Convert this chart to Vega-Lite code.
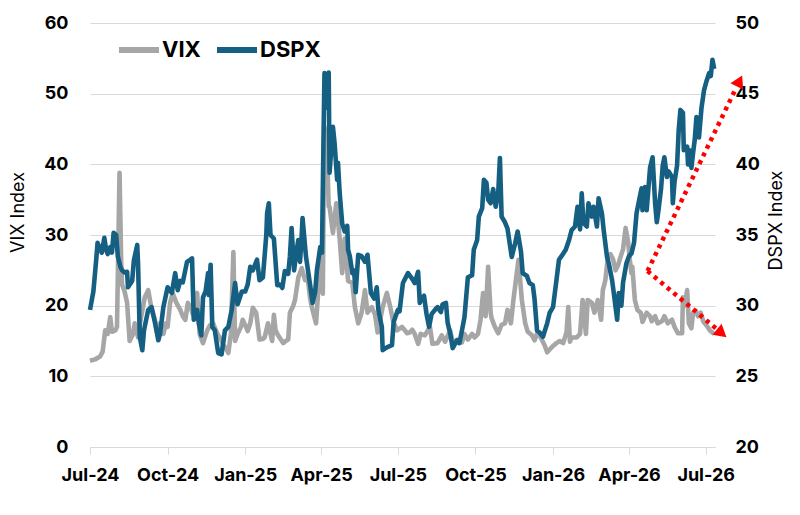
{
  "$schema": "https://vega.github.io/schema/vega-lite/v6.json",
  "width": 625,
  "height": 424,
  "autosize": {"type": "none"},
  "padding": {"left": 90, "top": 23, "right": 85, "bottom": 68},
  "background": "white",
  "config": {
    "view": {"stroke": null},
    "font": "Inter",
    "axis": {"labelFont": "Inter", "labelFontSize": 18, "labelFontWeight": "bold", "labelColor": "#000000", "titleFont": "Inter", "titleFontSize": 18, "titleFontWeight": "normal", "titleColor": "#000000"},
    "legend": {"labelFont": "Inter"}
  },
  "datasets": {
    "vix": [
      {"date":"2024-07-01","value":12.2},{"date":"2024-07-07","value":12.4},{"date":"2024-07-13","value":12.8},{"date":"2024-07-16","value":13.5},{"date":"2024-07-19","value":16.5},{"date":"2024-07-22","value":16.0},{"date":"2024-07-25","value":18.4},{"date":"2024-07-27","value":16.3},{"date":"2024-07-31","value":16.5},{"date":"2024-08-02","value":17.0},{"date":"2024-08-05","value":38.8},{"date":"2024-08-07","value":26.0},{"date":"2024-08-08","value":23.0},{"date":"2024-08-11","value":22.0},{"date":"2024-08-14","value":20.4},{"date":"2024-08-17","value":15.0},{"date":"2024-08-21","value":16.0},{"date":"2024-08-23","value":17.5},{"date":"2024-08-27","value":15.5},{"date":"2024-08-30","value":18.0},{"date":"2024-09-04","value":21.2},{"date":"2024-09-08","value":22.2},{"date":"2024-09-12","value":19.5},{"date":"2024-09-16","value":18.0},{"date":"2024-09-18","value":16.5},{"date":"2024-09-22","value":17.5},{"date":"2024-09-26","value":16.0},{"date":"2024-09-29","value":17.5},
      {"date":"2024-10-01","value":17.0},{"date":"2024-10-04","value":20.4},{"date":"2024-10-07","value":21.8},{"date":"2024-10-11","value":20.5},{"date":"2024-10-16","value":19.4},{"date":"2024-10-19","value":18.5},{"date":"2024-10-22","value":18.0},{"date":"2024-10-25","value":20.4},{"date":"2024-10-29","value":19.5},{"date":"2024-10-31","value":18.8},{"date":"2024-11-05","value":21.8},{"date":"2024-11-08","value":16.0},{"date":"2024-11-12","value":14.7},{"date":"2024-11-17","value":16.5},{"date":"2024-11-20","value":17.2},{"date":"2024-11-24","value":17.5},{"date":"2024-11-29","value":16.0},{"date":"2024-12-02","value":15.5},{"date":"2024-12-06","value":14.5},{"date":"2024-12-09","value":14.0},{"date":"2024-12-12","value":13.3},{"date":"2024-12-15","value":16.0},{"date":"2024-12-18","value":27.6},{"date":"2024-12-20","value":15.0},{"date":"2024-12-23","value":16.0},{"date":"2024-12-27","value":17.0},{"date":"2024-12-29","value":18.0},
      {"date":"2025-01-02","value":17.0},{"date":"2025-01-04","value":16.4},{"date":"2025-01-07","value":17.5},{"date":"2025-01-10","value":19.7},{"date":"2025-01-14","value":19.0},{"date":"2025-01-18","value":15.2},{"date":"2025-01-22","value":15.3},{"date":"2025-01-24","value":15.5},{"date":"2025-01-28","value":17.5},{"date":"2025-02-02","value":15.0},{"date":"2025-02-04","value":18.7},{"date":"2025-02-06","value":16.5},{"date":"2025-02-09","value":15.8},{"date":"2025-02-15","value":14.7},{"date":"2025-02-18","value":15.0},{"date":"2025-02-21","value":15.2},{"date":"2025-02-23","value":19.0},{"date":"2025-02-27","value":20.0},{"date":"2025-03-01","value":20.8},{"date":"2025-03-05","value":24.0},{"date":"2025-03-09","value":25.3},{"date":"2025-03-13","value":23.6},{"date":"2025-03-16","value":24.0},{"date":"2025-03-19","value":21.0},{"date":"2025-03-21","value":19.8},{"date":"2025-03-26","value":17.5},{"date":"2025-03-28","value":21.0},{"date":"2025-03-31","value":26.5},{"date":"2025-04-03","value":21.7},{"date":"2025-04-04","value":35.0},{"date":"2025-04-05","value":45.3},{"date":"2025-04-08","value":42.0},{"date":"2025-04-10","value":34.0},{"date":"2025-04-11","value":34.0},{"date":"2025-04-15","value":30.3},{"date":"2025-04-19","value":34.5},{"date":"2025-04-20","value":33.4},{"date":"2025-04-23","value":29.5},{"date":"2025-04-26","value":24.6},{"date":"2025-04-29","value":29.5},{"date":"2025-05-03","value":23.5},{"date":"2025-05-08","value":23.2},{"date":"2025-05-11","value":19.8},{"date":"2025-05-15","value":17.5},{"date":"2025-05-19","value":19.0},{"date":"2025-05-23","value":22.2},{"date":"2025-05-26","value":19.0},{"date":"2025-05-31","value":19.8},{"date":"2025-06-04","value":18.7},{"date":"2025-06-07","value":16.2},{"date":"2025-06-13","value":19.8},{"date":"2025-06-18","value":21.8},{"date":"2025-06-22","value":19.8},{"date":"2025-06-25","value":18.0},{"date":"2025-06-30","value":16.5},
      {"date":"2025-07-06","value":17.0},{"date":"2025-07-12","value":16.1},{"date":"2025-07-15","value":16.2},{"date":"2025-07-18","value":16.6},{"date":"2025-07-21","value":16.0},{"date":"2025-07-25","value":14.6},{"date":"2025-07-28","value":16.0},{"date":"2025-08-02","value":15.8},{"date":"2025-08-08","value":17.0},{"date":"2025-08-11","value":14.6},{"date":"2025-08-17","value":14.7},{"date":"2025-08-22","value":15.8},{"date":"2025-08-26","value":14.9},{"date":"2025-09-01","value":16.5},{"date":"2025-09-04","value":14.8},{"date":"2025-09-10","value":15.2},{"date":"2025-09-15","value":14.8},{"date":"2025-09-18","value":16.0},{"date":"2025-09-22","value":15.2},{"date":"2025-09-27","value":16.0},{"date":"2025-09-30","value":15.5},{"date":"2025-10-04","value":16.0},{"date":"2025-10-07","value":18.0},{"date":"2025-10-10","value":21.8},{"date":"2025-10-13","value":18.5},{"date":"2025-10-16","value":25.5},{"date":"2025-10-19","value":19.0},{"date":"2025-10-20","value":18.3},{"date":"2025-10-24","value":17.0},{"date":"2025-10-28","value":16.1},{"date":"2025-11-01","value":17.3},{"date":"2025-11-05","value":17.5},{"date":"2025-11-08","value":19.4},{"date":"2025-11-12","value":17.5},{"date":"2025-11-15","value":20.8},{"date":"2025-11-19","value":24.6},{"date":"2025-11-21","value":26.5},{"date":"2025-11-25","value":20.8},{"date":"2025-11-29","value":17.5},{"date":"2025-12-02","value":16.3},{"date":"2025-12-07","value":15.8},{"date":"2025-12-10","value":15.1},{"date":"2025-12-14","value":16.3},{"date":"2025-12-19","value":15.1},{"date":"2025-12-22","value":14.4},{"date":"2025-12-25","value":13.4},{"date":"2025-12-28","value":13.8},
      {"date":"2026-01-01","value":14.3},{"date":"2026-01-05","value":14.7},{"date":"2026-01-09","value":15.0},{"date":"2026-01-13","value":14.7},{"date":"2026-01-17","value":16.3},{"date":"2026-01-19","value":19.8},{"date":"2026-01-21","value":14.9},{"date":"2026-01-23","value":15.5},{"date":"2026-01-29","value":15.5},{"date":"2026-02-02","value":16.0},{"date":"2026-02-05","value":20.8},{"date":"2026-02-09","value":16.0},{"date":"2026-02-11","value":20.8},{"date":"2026-02-16","value":20.4},{"date":"2026-02-19","value":19.0},{"date":"2026-02-23","value":20.8},{"date":"2026-02-27","value":18.0},{"date":"2026-03-01","value":22.2},{"date":"2026-03-04","value":23.6},{"date":"2026-03-07","value":26.9},{"date":"2026-03-10","value":27.3},{"date":"2026-03-13","value":26.6},{"date":"2026-03-16","value":25.0},{"date":"2026-03-19","value":25.7},{"date":"2026-03-22","value":26.9},{"date":"2026-03-25","value":28.0},{"date":"2026-03-28","value":31.0},{"date":"2026-03-31","value":29.0},{"date":"2026-04-02","value":26.5},{"date":"2026-04-04","value":24.6},{"date":"2026-04-05","value":25.5},{"date":"2026-04-08","value":20.8},{"date":"2026-04-11","value":19.4},{"date":"2026-04-15","value":19.0},{"date":"2026-04-17","value":17.7},{"date":"2026-04-22","value":19.0},{"date":"2026-04-26","value":18.5},{"date":"2026-04-28","value":17.8},{"date":"2026-05-02","value":18.5},{"date":"2026-05-05","value":17.5},{"date":"2026-05-10","value":17.8},{"date":"2026-05-13","value":18.5},{"date":"2026-05-17","value":17.5},{"date":"2026-05-22","value":18.0},{"date":"2026-05-25","value":17.0},{"date":"2026-05-29","value":16.1},{"date":"2026-06-03","value":16.1},{"date":"2026-06-04","value":21.2},{"date":"2026-06-06","value":20.0},{"date":"2026-06-09","value":22.2},{"date":"2026-06-11","value":17.5},{"date":"2026-06-14","value":16.8},{"date":"2026-06-16","value":19.0},{"date":"2026-06-19","value":19.3},{"date":"2026-06-22","value":18.5},{"date":"2026-06-25","value":19.0},{"date":"2026-06-28","value":17.8},{"date":"2026-07-02","value":17.2},{"date":"2026-07-06","value":16.5},{"date":"2026-07-11","value":16.0}
    ],
    "dspx": [
      {"date":"2024-07-01","value":29.7},{"date":"2024-07-05","value":31.0},{"date":"2024-07-08","value":33.0},{"date":"2024-07-10","value":34.45},{"date":"2024-07-13","value":34.0},{"date":"2024-07-15","value":33.75},{"date":"2024-07-18","value":34.8},{"date":"2024-07-20","value":34.0},{"date":"2024-07-22","value":33.65},{"date":"2024-07-25","value":34.15},{"date":"2024-07-27","value":33.75},{"date":"2024-07-29","value":35.15},{"date":"2024-08-01","value":35.0},{"date":"2024-08-03","value":33.5},{"date":"2024-08-06","value":32.75},{"date":"2024-08-08","value":32.5},{"date":"2024-08-11","value":32.35},{"date":"2024-08-14","value":32.4},{"date":"2024-08-15","value":31.3},{"date":"2024-08-20","value":31.75},{"date":"2024-08-22","value":33.2},{"date":"2024-08-26","value":34.3},{"date":"2024-08-27","value":32.95},{"date":"2024-08-29","value":27.8},{"date":"2024-09-01","value":26.85},{"date":"2024-09-03","value":28.25},{"date":"2024-09-08","value":29.7},{"date":"2024-09-12","value":29.9},{"date":"2024-09-16","value":28.8},{"date":"2024-09-20","value":27.55},{"date":"2024-09-22","value":28.0},{"date":"2024-09-26","value":29.9},
      {"date":"2024-10-01","value":31.3},{"date":"2024-10-06","value":30.9},{"date":"2024-10-10","value":32.3},{"date":"2024-10-13","value":31.1},{"date":"2024-10-16","value":31.75},{"date":"2024-10-19","value":31.65},{"date":"2024-10-24","value":33.1},{"date":"2024-10-28","value":33.25},{"date":"2024-10-30","value":33.35},{"date":"2024-11-01","value":29.0},{"date":"2024-11-05","value":29.7},{"date":"2024-11-07","value":28.75},{"date":"2024-11-10","value":27.9},{"date":"2024-11-12","value":30.6},{"date":"2024-11-15","value":31.0},{"date":"2024-11-18","value":32.3},{"date":"2024-11-19","value":30.75},{"date":"2024-11-21","value":32.9},{"date":"2024-11-23","value":28.5},{"date":"2024-11-26","value":28.25},{"date":"2024-11-30","value":26.65},{"date":"2024-12-04","value":26.55},{"date":"2024-12-08","value":28.25},{"date":"2024-12-12","value":28.5},{"date":"2024-12-16","value":29.7},{"date":"2024-12-20","value":31.6},{"date":"2024-12-23","value":30.1},{"date":"2024-12-28","value":31.0},
      {"date":"2025-01-01","value":31.0},{"date":"2025-01-04","value":31.5},{"date":"2025-01-07","value":32.75},{"date":"2025-01-10","value":32.5},{"date":"2025-01-15","value":33.25},{"date":"2025-01-18","value":31.8},{"date":"2025-01-22","value":32.0},{"date":"2025-01-26","value":35.0},{"date":"2025-01-27","value":36.55},{"date":"2025-01-29","value":37.25},{"date":"2025-01-31","value":35.0},{"date":"2025-02-04","value":34.75},{"date":"2025-02-08","value":31.45},{"date":"2025-02-11","value":31.5},{"date":"2025-02-14","value":31.25},{"date":"2025-02-17","value":32.45},{"date":"2025-02-21","value":32.25},{"date":"2025-02-23","value":33.5},{"date":"2025-02-25","value":35.5},{"date":"2025-02-28","value":32.5},{"date":"2025-03-02","value":33.5},{"date":"2025-03-05","value":34.65},{"date":"2025-03-07","value":33.1},{"date":"2025-03-09","value":35.0},{"date":"2025-03-10","value":36.2},{"date":"2025-03-14","value":33.5},{"date":"2025-03-19","value":31.45},{"date":"2025-03-22","value":30.2},{"date":"2025-03-25","value":31.0},{"date":"2025-03-27","value":32.5},{"date":"2025-03-31","value":34.15},{"date":"2025-04-02","value":33.75},{"date":"2025-04-04","value":42.5},{"date":"2025-04-05","value":46.45},{"date":"2025-04-08","value":44.0},{"date":"2025-04-10","value":46.5},{"date":"2025-04-11","value":39.4},{"date":"2025-04-15","value":42.65},{"date":"2025-04-17","value":41.5},{"date":"2025-04-20","value":38.9},{"date":"2025-04-21","value":40.1},{"date":"2025-04-23","value":38.0},{"date":"2025-04-26","value":35.8},{"date":"2025-04-29","value":35.25},{"date":"2025-05-02","value":35.65},{"date":"2025-05-03","value":33.95},{"date":"2025-05-05","value":33.5},{"date":"2025-05-08","value":32.3},{"date":"2025-05-10","value":32.5},{"date":"2025-05-12","value":30.95},{"date":"2025-05-15","value":33.6},{"date":"2025-05-19","value":33.5},{"date":"2025-05-23","value":33.1},{"date":"2025-05-26","value":33.6},{"date":"2025-05-30","value":30.9},{"date":"2025-06-03","value":30.5},{"date":"2025-06-06","value":31.3},{"date":"2025-06-08","value":29.65},{"date":"2025-06-12","value":28.5},{"date":"2025-06-13","value":26.85},{"date":"2025-06-18","value":27.05},{"date":"2025-06-24","value":27.2},{"date":"2025-06-26","value":28.85},
      {"date":"2025-07-01","value":29.7},{"date":"2025-07-03","value":29.6},{"date":"2025-07-07","value":31.6},{"date":"2025-07-13","value":32.3},{"date":"2025-07-18","value":31.9},{"date":"2025-07-21","value":31.6},{"date":"2025-07-25","value":32.4},{"date":"2025-07-27","value":30.2},{"date":"2025-07-29","value":30.5},{"date":"2025-08-01","value":30.7},{"date":"2025-08-04","value":29.4},{"date":"2025-08-07","value":28.5},{"date":"2025-08-10","value":29.4},{"date":"2025-08-14","value":29.7},{"date":"2025-08-17","value":29.9},{"date":"2025-08-21","value":29.55},{"date":"2025-08-23","value":30.1},{"date":"2025-08-27","value":30.2},{"date":"2025-08-29","value":28.8},{"date":"2025-09-01","value":28.05},{"date":"2025-09-04","value":27.0},{"date":"2025-09-09","value":27.55},{"date":"2025-09-12","value":27.35},{"date":"2025-09-15","value":28.25},{"date":"2025-09-18","value":29.2},{"date":"2025-09-22","value":32.0},{"date":"2025-09-27","value":32.15},{"date":"2025-09-29","value":33.95},{"date":"2025-10-03","value":34.65},{"date":"2025-10-05","value":36.3},{"date":"2025-10-09","value":36.9},{"date":"2025-10-11","value":38.9},{"date":"2025-10-14","value":38.7},{"date":"2025-10-16","value":37.5},{"date":"2025-10-19","value":37.25},{"date":"2025-10-22","value":38.25},{"date":"2025-10-25","value":37.0},{"date":"2025-10-28","value":38.0},{"date":"2025-10-30","value":40.45},{"date":"2025-11-01","value":36.3},{"date":"2025-11-05","value":35.9},{"date":"2025-11-08","value":35.45},{"date":"2025-11-13","value":33.45},{"date":"2025-11-17","value":34.4},{"date":"2025-11-20","value":35.25},{"date":"2025-11-24","value":33.8},{"date":"2025-11-26","value":32.3},{"date":"2025-12-01","value":32.1},{"date":"2025-12-04","value":31.6},{"date":"2025-12-08","value":31.45},{"date":"2025-12-10","value":30.5},{"date":"2025-12-13","value":28.25},{"date":"2025-12-16","value":28.1},{"date":"2025-12-20","value":27.8},{"date":"2025-12-25","value":28.75},{"date":"2025-12-28","value":29.5},
      {"date":"2026-01-01","value":29.9},{"date":"2026-01-05","value":31.8},{"date":"2026-01-08","value":33.25},{"date":"2026-01-11","value":33.5},{"date":"2026-01-16","value":33.95},{"date":"2026-01-20","value":34.65},{"date":"2026-01-23","value":35.35},{"date":"2026-01-27","value":35.6},{"date":"2026-01-30","value":37.0},{"date":"2026-02-02","value":35.4},{"date":"2026-02-04","value":37.95},{"date":"2026-02-06","value":35.85},{"date":"2026-02-10","value":35.6},{"date":"2026-02-12","value":37.25},{"date":"2026-02-16","value":36.3},{"date":"2026-02-18","value":37.0},{"date":"2026-02-22","value":35.6},{"date":"2026-02-24","value":37.6},{"date":"2026-02-28","value":36.5},{"date":"2026-03-02","value":35.35},{"date":"2026-03-06","value":33.45},{"date":"2026-03-08","value":33.0},{"date":"2026-03-12","value":31.8},{"date":"2026-03-14","value":30.9},{"date":"2026-03-18","value":29.0},{"date":"2026-03-20","value":30.9},{"date":"2026-03-23","value":30.0},{"date":"2026-03-25","value":31.65},{"date":"2026-03-29","value":33.0},{"date":"2026-04-01","value":33.5},{"date":"2026-04-04","value":33.7},{"date":"2026-04-07","value":34.45},{"date":"2026-04-10","value":36.55},{"date":"2026-04-14","value":37.75},{"date":"2026-04-16","value":38.3},{"date":"2026-04-17","value":36.75},{"date":"2026-04-20","value":38.4},{"date":"2026-04-22","value":36.75},{"date":"2026-04-26","value":39.75},{"date":"2026-04-29","value":40.5},{"date":"2026-05-02","value":37.25},{"date":"2026-05-04","value":35.9},{"date":"2026-05-06","value":36.75},{"date":"2026-05-09","value":38.25},{"date":"2026-05-11","value":39.9},{"date":"2026-05-13","value":40.5},{"date":"2026-05-16","value":39.1},{"date":"2026-05-18","value":39.5},{"date":"2026-05-22","value":39.1},{"date":"2026-05-23","value":37.25},{"date":"2026-05-25","value":38.75},{"date":"2026-05-28","value":39.9},{"date":"2026-05-30","value":42.45},{"date":"2026-06-01","value":43.85},{"date":"2026-06-04","value":43.65},{"date":"2026-06-05","value":41.0},{"date":"2026-06-09","value":41.25},{"date":"2026-06-10","value":40.0},{"date":"2026-06-12","value":41.0},{"date":"2026-06-14","value":39.75},{"date":"2026-06-16","value":40.8},{"date":"2026-06-18","value":41.75},{"date":"2026-06-20","value":43.35},{"date":"2026-06-23","value":41.9},{"date":"2026-06-26","value":44.0},{"date":"2026-06-29","value":45.25},{"date":"2026-07-02","value":45.9},{"date":"2026-07-05","value":46.45},{"date":"2026-07-07","value":46.25},{"date":"2026-07-09","value":47.4},{"date":"2026-07-11","value":46.75}
    ],
    "arrows": [
      {"arrow":"up","date":"2026-04-23","value":24.9},{"arrow":"up","date":"2026-08-06","value":50.8},
      {"arrow":"down","date":"2026-04-23","value":24.9},{"arrow":"down","date":"2026-07-14","value":16.7}
    ],
    "headUp": [{"date":"2026-08-10","value":51.8}],
    "headDown": [{"date":"2026-07-20","value":16.1}]
  },
  "layer": [
    {
      "data": {"name": "vix"},
      "mark": {"type": "line", "strokeWidth": 4.6, "strokeJoin": "round"},
      "encoding": {
        "x": {"field": "date", "type": "temporal",
          "scale": {"type": "utc", "domain": [{"year": 2024, "month": 7, "date": 1, "utc": true}, {"year": 2026, "month": 7, "date": 12, "utc": true}]},
          "axis": {"title": null, "format": "%b-%y", "grid": false, "labelFlush": false, "labelOverlap": false, "domainColor": "#D9D9D9", "tickColor": "#D9D9D9", "tickSize": 7, "labelPadding": 12,
            "values": [{"year":2024,"month":7,"date":1,"utc":true},{"year":2024,"month":10,"date":1,"utc":true},{"year":2025,"month":1,"date":1,"utc":true},{"year":2025,"month":4,"date":1,"utc":true},{"year":2025,"month":7,"date":1,"utc":true},{"year":2025,"month":10,"date":1,"utc":true},{"year":2026,"month":1,"date":1,"utc":true},{"year":2026,"month":4,"date":1,"utc":true},{"year":2026,"month":7,"date":1,"utc":true}]}},
        "y": {"field": "value", "type": "quantitative", "scale": {"domain": [0, 60], "nice": false},
          "axis": {"orient": "left", "title": "VIX Index", "values": [0, 10, 20, 30, 40, 50, 60], "domain": false, "ticks": false, "grid": true, "gridColor": "#D9D9D9", "gridWidth": 1, "labelPadding": 22, "titleAngle": -90, "titleBaseline": "middle", "titleX": -72, "titleY": 189}},
        "color": {"datum": "VIX", "type": "nominal",
          "scale": {"domain": ["VIX", "DSPX"], "range": ["#A6A6A6", "#156082"]},
          "legend": {"orient": "none", "legendX": 26, "legendY": 4, "direction": "horizontal", "title": null, "padding": 0, "gridAlign": "none", "symbolType": "stroke", "symbolStrokeWidth": 6, "symbolSize": 1600, "labelFontSize": 22, "labelFontWeight": "bold", "labelColor": "#000000", "labelOffset": 0, "columnPadding": 4}}
      }
    },
    {
      "data": {"name": "dspx"},
      "mark": {"type": "line", "strokeWidth": 4.6, "strokeJoin": "round"},
      "encoding": {
        "x": {"field": "date", "type": "temporal",
          "scale": {"type": "utc", "domain": [{"year": 2024, "month": 7, "date": 1, "utc": true}, {"year": 2026, "month": 7, "date": 12, "utc": true}]}},
        "y": {"field": "value", "type": "quantitative", "scale": {"domain": [20, 50], "nice": false},
          "axis": {"orient": "right", "title": "DSPX Index", "values": [20, 25, 30, 35, 40, 45, 50], "domain": false, "ticks": false, "grid": false, "labelPadding": 20, "titleAngle": -90, "titleBaseline": "middle", "titleX": 61, "titleY": 197}},
        "color": {"datum": "DSPX", "type": "nominal"}
      }
    },
    {
      "data": {"name": "arrows"},
      "mark": {"type": "line", "color": "#FF0000", "strokeWidth": 4.5, "strokeDash": [4, 4.5], "strokeCap": "butt"},
      "encoding": {
        "x": {"field": "date", "type": "temporal",
          "scale": {"type": "utc", "domain": [{"year": 2024, "month": 7, "date": 1, "utc": true}, {"year": 2026, "month": 7, "date": 12, "utc": true}]}},
        "y": {"field": "value", "type": "quantitative", "scale": {"domain": [0, 60], "nice": false}, "axis": null},
        "detail": {"field": "arrow", "type": "nominal"}
      }
    },
    {
      "data": {"name": "headUp"},
      "mark": {"type": "point", "shape": "triangle-up", "filled": true, "color": "#FF0000", "opacity": 1, "size": 200, "angle": 26},
      "encoding": {
        "x": {"field": "date", "type": "temporal",
          "scale": {"type": "utc", "domain": [{"year": 2024, "month": 7, "date": 1, "utc": true}, {"year": 2026, "month": 7, "date": 12, "utc": true}]}},
        "y": {"field": "value", "type": "quantitative", "scale": {"domain": [0, 60], "nice": false}, "axis": null}
      }
    },
    {
      "data": {"name": "headDown"},
      "mark": {"type": "point", "shape": "triangle-up", "filled": true, "color": "#FF0000", "opacity": 1, "size": 200, "angle": 130},
      "encoding": {
        "x": {"field": "date", "type": "temporal",
          "scale": {"type": "utc", "domain": [{"year": 2024, "month": 7, "date": 1, "utc": true}, {"year": 2026, "month": 7, "date": 12, "utc": true}]}},
        "y": {"field": "value", "type": "quantitative", "scale": {"domain": [0, 60], "nice": false}, "axis": null}
      }
    }
  ],
  "resolve": {"scale": {"y": "independent"}, "axis": {"y": "independent"}}
}
